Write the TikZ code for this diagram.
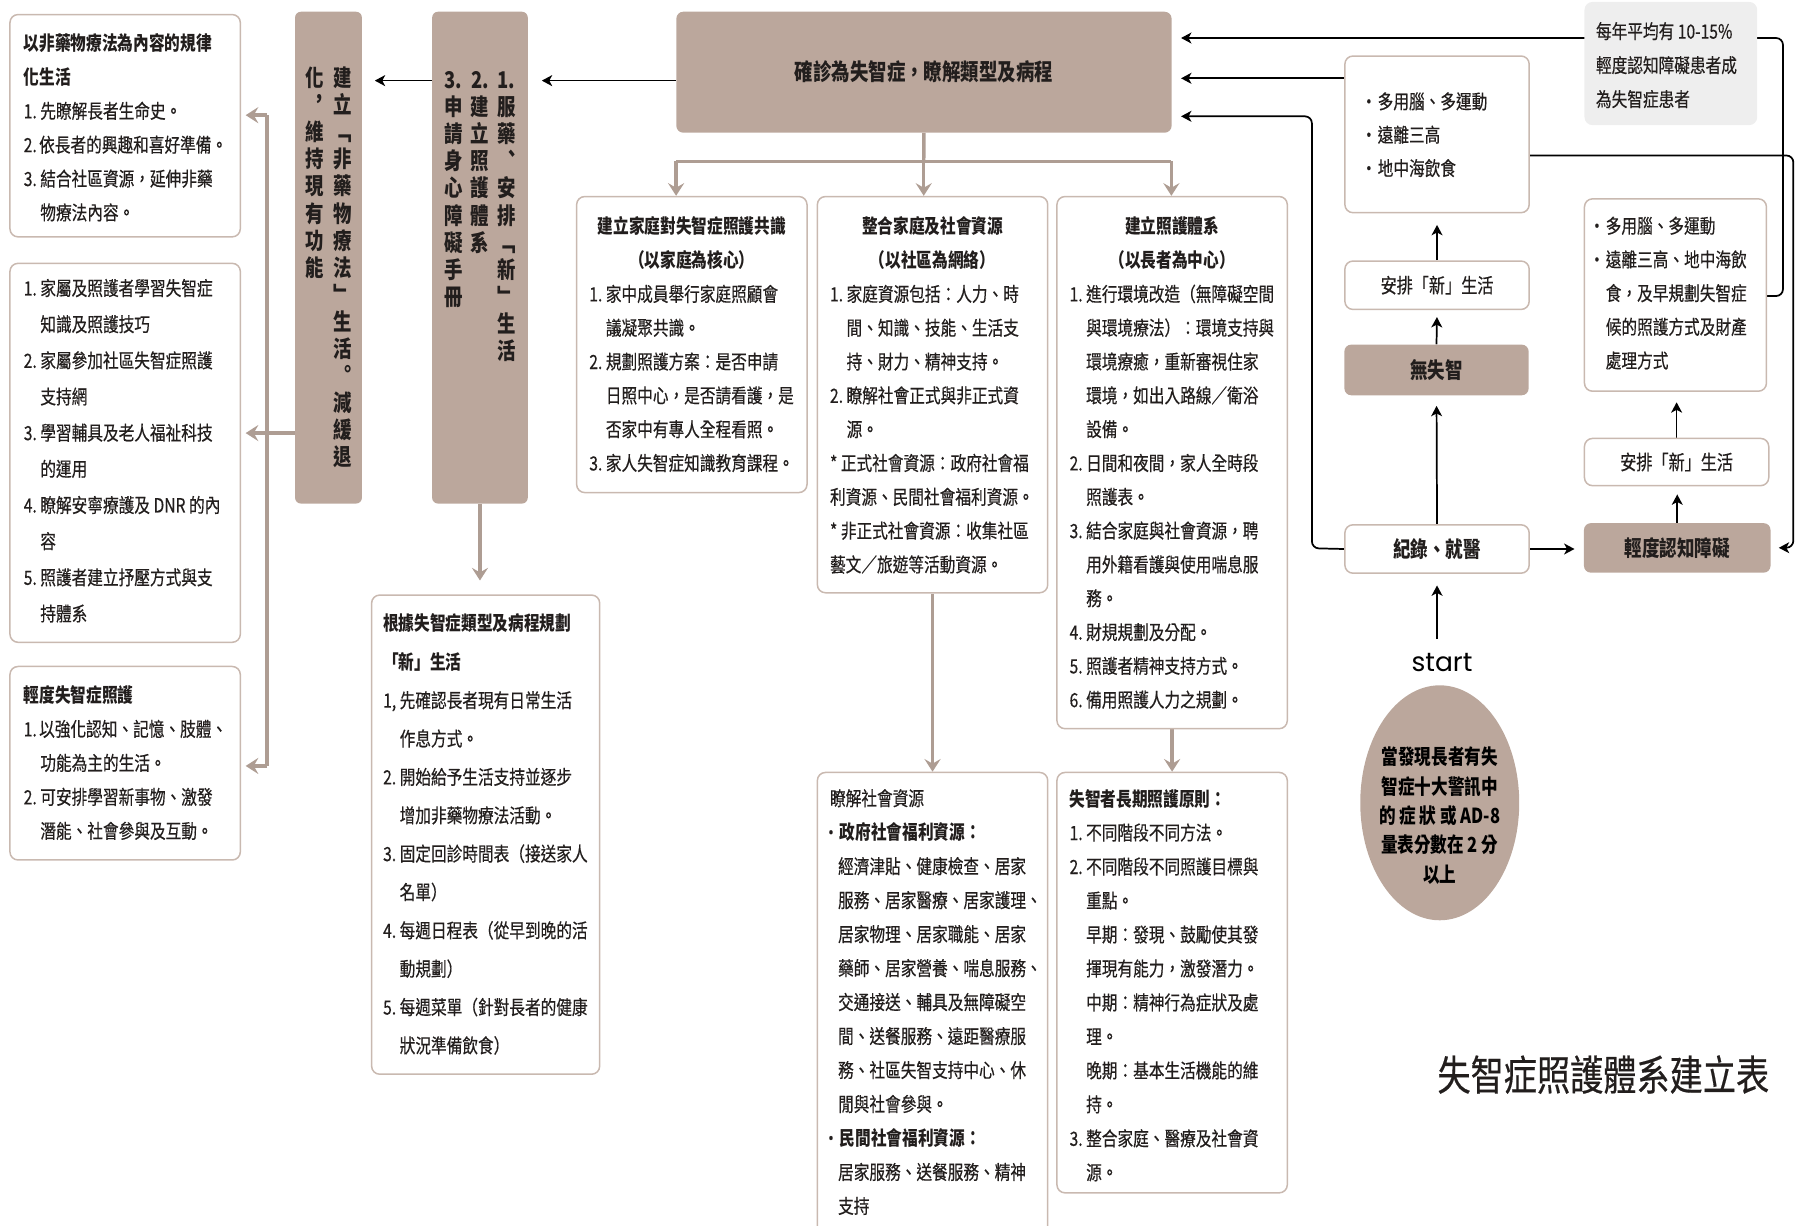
\documentclass[tikz,border=0pt]{standalone}
\usepackage{fontspec}
\setmainfont{Noto Sans CJK TC}[FakeStretch=0.8,UprightFeatures={FakeBold=0.4}]
\newfontfamily\startfont{Poppins}
\usetikzlibrary{arrows.meta,shapes.geometric}
\pgfdeclarelayer{background}
\pgfsetlayers{background,main}
\definecolor{brownF}{HTML}{BBA79C}
\definecolor{edgeC}{HTML}{C9B9B0}
\definecolor{connC}{HTML}{AE9D93}
\definecolor{grayF}{HTML}{EEEEEE}
\definecolor{txt}{HTML}{221E1D}
\newcommand\boxtxt[6]{\parbox[c][#1pt][t]{#2pt}{\fontsize{#3}{#4}\selectfont\raggedright\vspace*{#5pt}#6\par}}
\newcommand\hind{\hphantom{1.~}}
\newcommand\bul{\makebox[8.5pt][l]{\hspace*{-6pt}·}}
\newcommand\vcolumn[1]{\vtop{\halign{\hfil##\hfil\cr#1\crcr}}}
\newsavebox\eltext
\begin{document}
\sbox\eltext{\parbox[t]{128pt}{\centering\bfseries\fontsize{18}{25.5}\selectfont 當發現長者有失\\智症十大警訊中\\的~症~狀~或~AD-8\\量表分數在~2~分\\以上}}
\begin{tikzpicture}[x=1pt,y=-1pt,
 box/.style={draw=edgeC,line width=1.3pt,rounded corners=7pt,fill=white,inner ysep=0pt,text=txt,anchor=north west},
 fillbox/.style={fill=brownF,rounded corners=6pt,inner sep=0pt,text=txt,anchor=north west},
 onebox/.style={draw=edgeC,line width=1.3pt,rounded corners=7pt,fill=white,inner sep=0pt,text=txt,anchor=north west},
 bline/.style={draw=connC,line width=3pt},
 barrow/.style={bline,-{Stealth[length=11pt,width=14pt,inset=4pt]}},
 kline/.style={draw=black,line width=1.5pt,rounded corners=6pt},
 karrow/.style={kline,-{Stealth[length=9pt,width=9.5pt,inset=2.5pt]}},
]
\path[use as bounding box] (0,0) rectangle (1568,1064);
\clip (0,0) rectangle (1568,1064);

% ---------- left boxes
\node[box,inner xsep=12pt] (A) at (8,12) {\boxtxt{193}{176}{17}{29.4}{16.5}{{\bfseries 以非藥物療法為內容的規律\\化生活}\\1.~先瞭解長者生命史。\\2.~依長者的興趣和喜好準備。\\3.~結合社區資源，延伸非藥\\\hind 物療法內容。}};
\node[box,inner xsep=12pt] (B) at (8,228) {\boxtxt{329}{176}{17}{31.4}{13.5}{1.~家屬及照護者學習失智症\\\hind 知識及照護技巧\\2.~家屬參加社區失智症照護\\\hind 支持網\\3.~學習輔具及老人福祉科技\\\hind 的運用\\4.~瞭解安寧療護及~DNR~的內\\\hind 容\\5.~照護者建立抒壓方式與支\\\hind 持體系}};
\node[box,inner xsep=12pt] (C) at (8,578) {\boxtxt{168}{176}{17}{29.5}{16.5}{{\bfseries 輕度失智症照護}\\1.~以強化認知、記憶、肢體、\\\hind 功能為主的生活。\\2.~可安排學習新事物、激發\\\hind 潛能、社會參與及互動。}};

% ---------- vertical bars
\node[fillbox,minimum width=58pt,minimum height=427pt,rounded corners=5pt] (bar1) at (256,10) {\parbox[c][427pt][t]{58pt}{\fontsize{20}{23.5}\selectfont\bfseries\vspace*{48pt}\makebox[58pt][c]{\vcolumn{化\cr ︐\cr 維\cr 持\cr 現\cr 有\cr 功\cr 能}\hspace{8pt}\vcolumn{建\cr 立\cr ﹁\cr 非\cr 藥\cr 物\cr 療\cr 法\cr ﹂\cr 生\cr 活\cr ︒\cr 減\cr 緩\cr 退}}}};
\node[fillbox,minimum width=83pt,minimum height=427pt,rounded corners=5pt] (bar2) at (375,10) {\parbox[c][427pt][t]{83pt}{\fontsize{20}{23.5}\selectfont\bfseries\vspace*{52pt}\makebox[83pt][c]{\vcolumn{3.\cr 申\cr 請\cr 身\cr 心\cr 障\cr 礙\cr 手\cr 冊}\hspace{7pt}\vcolumn{2.\cr 建\cr 立\cr 照\cr 護\cr 體\cr 系}\hspace{7pt}\vcolumn{1.\cr 服\cr 藥\cr ︑\cr 安\cr 排\cr ﹁\cr 新\cr ﹂\cr 生\cr 活}}}};

% ---------- planning box
\node[box,inner xsep=10pt] (P) at (322,516) {\boxtxt{416}{178}{17}{33.3}{16.5}{{\bfseries 根據失智症類型及病程規劃\\「新」生活}\\1,~先確認長者現有日常生活\\\hind 作息方式。\\2.~開始給予生活支持並逐步\\\hind 增加非藥物療法活動。\\3.~固定回診時間表（接送家人\\\hind 名單）\\4.~每週日程表（從早到晚的活\\\hind 動規劃）\\5.~每週菜單（針對長者的健康\\\hind 狀況準備飲食）}};

% ---------- title box
\node[fillbox,minimum width=430pt,minimum height=105pt,font=\bfseries\fontsize{20}{24}\selectfont] (T) at (587,10) {確診為失智症，瞭解類型及病程};

% ---------- middle columns
\node[box,inner xsep=11pt] (D) at (500,170) {\boxtxt{257}{178}{17}{29.36}{17.5}{\makebox[178pt][c]{\bfseries 建立家庭對失智症照護共識}\\\makebox[178pt][c]{\bfseries （以家庭為核心）}\\1.~家中成員舉行家庭照顧會\\\hind 議凝聚共識。\\2.~規劃照護方案：是否申請\\\hind 日照中心，是否請看護，是\\\hind 否家中有專人全程看照。\\3.~家人失智症知識教育課程。}};
\node[box,inner xsep=11pt] (E) at (709,170) {\boxtxt{344}{178}{17}{29.36}{17.5}{\makebox[178pt][c]{\bfseries 整合家庭及社會資源}\\\makebox[178pt][c]{\bfseries （以社區為網絡）}\\1.~家庭資源包括：人力、時\\\hind 間、知識、技能、生活支\\\hind 持、財力、精神支持。\\2.~瞭解社會正式與非正式資\\\hind 源。\\{*}~正式社會資源：政府社會福\\利資源、民間社會福利資源。\\{*}~非正式社會資源：收集社區\\藝文／旅遊等活動資源。}};
\node[box,inner xsep=11pt] (F) at (917,170) {\boxtxt{462}{178}{17}{29.36}{17.5}{\makebox[178pt][c]{\bfseries 建立照護體系}\\\makebox[178pt][c]{\bfseries （以長者為中心）}\\1.~進行環境改造（無障礙空間\\\hind 與環境療法）：環境支持與\\\hind 環境療癒，重新審視住家\\\hind 環境，如出入路線／衛浴\\\hind 設備。\\2.~日間和夜間，家人全時段\\\hind 照護表。\\3.~結合家庭與社會資源，聘\\\hind 用外籍看護與使用喘息服\\\hind 務。\\4.~財規規劃及分配。\\5.~照護者精神支持方式。\\6.~備用照護人力之規劃。}};
\node[box,inner xsep=11pt] (G) at (709,670) {\boxtxt{410}{178}{17}{29.5}{14.5}{瞭解社會資源\\\bul{\bfseries 政府社會福利資源：}\\\hspace*{7pt}經濟津貼、健康檢查、居家\\\hspace*{7pt}服務、居家醫療、居家護理、\\\hspace*{7pt}居家物理、居家職能、居家\\\hspace*{7pt}藥師、居家營養、喘息服務、\\\hspace*{7pt}交通接送、輔具及無障礙空\\\hspace*{7pt}間、送餐服務、遠距醫療服\\\hspace*{7pt}務、社區失智支持中心、休\\\hspace*{7pt}閒與社會參與。\\\bul{\bfseries 民間社會福利資源：}\\\hspace*{7pt}居家服務、送餐服務、精神\\\hspace*{7pt}支持}};
\node[box,inner xsep=11pt] (H) at (917,670) {\boxtxt{365}{178}{17}{29.5}{14.5}{{\bfseries 失智者長期照護原則：}\\1.~不同階段不同方法。\\2.~不同階段不同照護目標與\\\hind 重點。\\\hind 早期：發現、鼓勵使其發\\\hind 揮現有能力，激發潛力。\\\hind 中期：精神行為症狀及處\\\hind 理。\\\hind 晚期：基本生活機能的維\\\hind 持。\\3.~整合家庭、醫療及社會資\\\hind 源。}};

% ---------- right side
\node[box,draw=none,fill=grayF,inner xsep=10pt] (Q) at (1375,1) {\boxtxt{107}{130}{17}{29.5}{17.5}{每年平均有~10-15\%\\輕度認知障礙患者成\\為失智症患者}};
\node[box,inner xsep=20pt] (I) at (1167,48) {\boxtxt{136}{120}{17}{29}{31.5}{\bul 多用腦、多運動\\\bul 遠離三高\\\bul 地中海飲食}};
\node[onebox,minimum width=160pt,minimum height=42pt,font=\fontsize{17.5}{20}\selectfont] (J) at (1167,226) {安排「新」生活};
\node[fillbox,minimum width=160pt,minimum height=44pt,font=\bfseries\fontsize{19}{22}\selectfont] (K) at (1167,299) {無失智};
\node[onebox,minimum width=160pt,minimum height=42pt,font=\bfseries\fontsize{19}{22}\selectfont] (L) at (1167,455) {紀錄、就醫};
\node[box,inner xsep=10pt] (O) at (1375,172) {\boxtxt{167}{138}{17}{29.25}{15.5}{\bul 多用腦、多運動\\\bul 遠離三高、地中海飲\\\hspace*{8.5pt}食，及早規劃失智症\\\hspace*{8.5pt}候的照護方式及財產\\\hspace*{8.5pt}處理方式}};
\node[onebox,minimum width=160pt,minimum height=41pt,font=\fontsize{17.5}{20}\selectfont] (N) at (1375,380) {安排「新」生活};
\node[fillbox,minimum width=162pt,minimum height=43pt,font=\bfseries\fontsize{19}{22}\selectfont] (M) at (1375,454) {輕度認知障礙};

\node[ellipse,fill=brownF,minimum width=138pt,minimum height=204pt,inner sep=0pt,text=txt] (EL) at (1250,697) {\smash{\makebox[0pt]{\raisebox{33pt}{\usebox\eltext}}}};
\node[font=\startfont\fontsize{23}{23}\selectfont,inner sep=2pt,text=black] (S) at (1252,575) {start};
\node[font=\fontsize{36}{40}\selectfont,text=txt] (TT) at (1392,933) {失智症照護體系建立表};

% ---------- connectors
\begin{pgfonlayer}{background}
 \coordinate (ya) at (0,70);
 \draw[karrow,shorten >=12pt] (T.west |- ya) -- (bar2.east |- ya);
 \draw[karrow,shorten >=11pt] (bar2.west |- ya) -- (bar1.east |- ya);
 \coordinate (lt) at (232,100);
 \coordinate (lj) at (232,376);
 \coordinate (lb) at (232,665);
 \draw[bline] (lt) -- (lb);
 \draw[bline] (bar1.west |- lj) -- (lj);
 \draw[barrow,shorten >=4pt] (lt) -- (A.east |- lt);
 \draw[barrow,shorten >=4pt] (lj) -- (B.east |- lj);
 \draw[barrow,shorten >=4pt] (lb) -- (C.east |- lb);
 \draw[barrow,shorten >=12pt] (bar2.south) -- (bar2.south |- P.north);
 \coordinate (tj) at (802,140);
 \coordinate (tl) at (587,140);
 \coordinate (tr) at (1017,140);
 \draw[bline] (T.south) -- (tj);
 \draw[bline] (tl) -- (tr);
 \draw[barrow] (tl) -- (tl |- D.north);
 \draw[barrow] (tj) -- (tj |- E.north);
 \draw[barrow] (tr) -- (tr |- F.north);
 \draw[barrow] (E.south) -- (E.south |- G.north);
 \draw[barrow] (F.south) -- (F.south |- H.north);
 % right side
 \draw[karrow,shorten >=9pt] (L.north) -- (K.south);
 \draw[karrow,shorten >=6pt] (K.north) -- (J.south);
 \draw[karrow,shorten >=10pt] (J.north) -- (I.south);
 \draw[karrow,shorten >=8pt] (L.east) -- (L.east -| M.west);
 \draw[karrow,shorten >=7pt] (M.north) -- (M.north |- N.south);
 \draw[karrow,shorten >=9pt] (N.north) -- (N.north |- O.south);
 \draw[karrow,shorten <=10pt,shorten >=10pt] (L.south |- S.north) -- (L.south);
 \coordinate (c1) at (1548,257);
 \coordinate (c2) at (1548,33);
 \draw[karrow,shorten >=8pt] (O.east |- c1) -- (c1) -- (c2) -- (T.east |- c2);
 \coordinate (c3) at (1100,68);
 \draw[karrow,shorten >=8pt] (I.west |- c3) -- (T.east |- c3);
 \coordinate (c4) at (1139,476);
 \coordinate (c5) at (1139,101);
 \draw[karrow,shorten >=8pt] (L.west) -- (c4) -- (c5) -- (T.east |- c5);
 \coordinate (c6) at (1557,135);
 \coordinate (c7) at (1557,475.5);
 \draw[karrow,shorten >=7pt] (I.east |- c6) -- (c6) -- (c7) -- (M.east);
\end{pgfonlayer}
\end{tikzpicture}
\end{document}
